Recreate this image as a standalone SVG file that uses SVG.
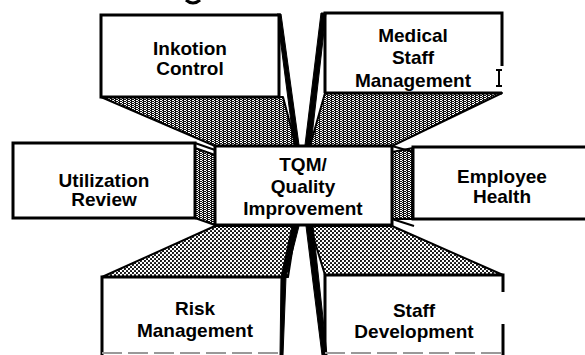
<svg xmlns="http://www.w3.org/2000/svg" width="585" height="355" viewBox="0 0 585 355">
<defs>
<pattern id="dark" width="4" height="2" patternUnits="userSpaceOnUse"><rect width="4" height="2" fill="#111"/><rect x="0" y="0" width="2" height="1" fill="#fff"/><rect x="2" y="1" width="1" height="1" fill="#fff"/></pattern>
<pattern id="dots" width="4" height="4" patternUnits="userSpaceOnUse"><rect width="4" height="4" fill="#fff"/><circle cx="1" cy="1" r="1.05" fill="#000"/><circle cx="3" cy="3" r="1.05" fill="#000"/></pattern>
<style>
.box{fill:#fff;stroke:#000;stroke-width:3}
.edge{fill:none;stroke:#000;stroke-width:3}
.thin{fill:none;stroke:#000;stroke-width:2}
.wedge{fill:#000;stroke:#000;stroke-width:1}
.dk{fill:url(#dark);stroke:#000;stroke-width:2;stroke-linejoin:round}
.dt{fill:url(#dots);stroke:#000;stroke-width:2;stroke-linejoin:round}
.t{font-family:"Liberation Sans",Arial,Helvetica,sans-serif;font-weight:bold;font-size:19px;fill:#000;text-anchor:middle}
</style>
</defs>
<rect width="585" height="355" fill="#fff"/>
<path d="M186,0 Q193,6 200,0" fill="none" stroke="#000" stroke-width="3"/>
<g id="connectors">
<polygon class="dk" points="101,97 283,97 296,146 215,146"/>
<polygon class="wedge" points="277,14 281,14 299,145 294,145"/>
<polygon class="dk" points="325,93 502,93 392,146 310,146"/>
<polygon class="wedge" points="321,13 326,13 311,145 305,145"/>
<polygon class="dk" points="195,148 215,155 215,225 195,218"/>
<line class="thin" x1="195" y1="143" x2="215" y2="150"/>
<polygon class="dk" points="392,152 413,148 413,219 392,219"/>
<line class="thin" x1="392" y1="146" x2="413" y2="152"/>
<line class="thin" x1="392" y1="219" x2="414" y2="226"/>
<polygon class="dt" points="215,226 296,226 288,277 102,277"/>
<polygon class="wedge" points="292,226 299,226 286,277 283,355 280,355 281,277"/>
<polygon class="dt" points="310,226 392,226 503,275 325,275"/>
<polygon class="wedge" points="306,226 313,226 327,355 322,355"/>
</g>
<g id="infection">
<rect class="box" x="101" y="15" width="178" height="82"/>
<text class="t" x="190" y="55">Inkotion</text>
<text class="t" x="190" y="75">Control</text>
</g>
<g id="medical">
<path class="edge" d="M325,93 V13 H502 V66"/>
<path class="thin" d="M499,70 V86 M496,70 H502 M496,86 H502"/>
<line class="edge" x1="325" y1="93" x2="502" y2="93"/>
<text class="t" x="413" y="42">Medical</text>
<text class="t" x="413" y="64">Staff</text>
<text class="t" x="413" y="87">Management</text>
</g>
<g id="utilization">
<rect class="box" x="13" y="143" width="182" height="75"/>
<text class="t" x="104" y="187">Utilization</text>
<text class="t" x="104" y="206">Review</text>
</g>
<g id="center">
<rect class="box" x="215" y="146" width="177" height="79"/>
<text class="t" x="303" y="171">TQM/</text>
<text class="t" x="303" y="193">Quality</text>
<text class="t" x="303" y="215">Improvement</text>
</g>
<g id="employee">
<path class="edge" d="M590,147 H413 V219 H590"/>
<text class="t" x="502" y="183">Employee</text>
<text class="t" x="502" y="203">Health</text>
</g>
<g id="risk">
<path class="edge" d="M102,355 V277 H284"/>
<line x1="102" y1="353" x2="282" y2="353" stroke="#999" stroke-width="2" stroke-dasharray="20,6"/>
<text class="t" x="195" y="315">Risk</text>
<text class="t" x="195" y="337">Management</text>
</g>
<g id="staff">
<path class="edge" d="M325,355 V275 H503 V292"/>
<line class="edge" x1="503" y1="324" x2="503" y2="355"/>
<line x1="325" y1="353" x2="503" y2="353" stroke="#999" stroke-width="2" stroke-dasharray="20,6"/>
<text class="t" x="414" y="317">Staff</text>
<text class="t" x="414" y="338">Development</text>
</g>
</svg>
